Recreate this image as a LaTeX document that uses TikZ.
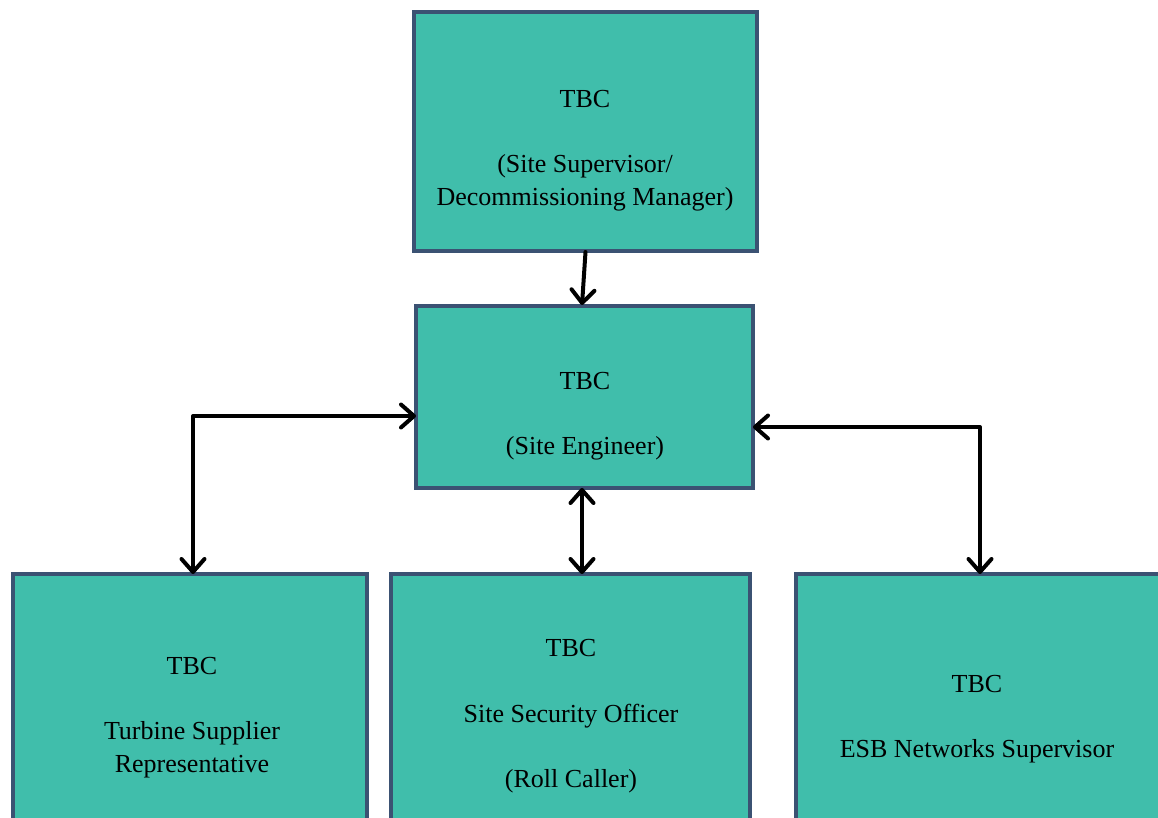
\documentclass[tikz,border=0pt]{standalone}
\usepackage{fontspec}
\setmainfont{Liberation Serif}
\usetikzlibrary{arrows.meta,calc}
\definecolor{boxfill}{RGB}{64,190,171}
\definecolor{boxline}{RGB}{59,82,115}
\tikzset{
  rolebox/.style={draw=boxline, fill=boxfill, line width=2pt, rectangle, inner sep=0pt, outer sep=0pt},
  lbl/.style={anchor=base, inner sep=0pt, font=\fontsize{13}{16.5}\selectfont},
  arr/.style={line width=2pt, draw=black, line cap=round, line join=round},
  barb/.tip={Straight Barb[length=6.5pt,width=11.5pt,round]}
}
\begin{document}
\begin{tikzpicture}[x=0.5pt,y=-0.5pt]
\useasboundingbox (0,0) rectangle (1158,818);
% boxes
\node[rolebox, minimum width=171.5pt, minimum height=119.5pt] (top) at (585.5,131.5) {};
\node[rolebox, minimum width=168.5pt, minimum height=91pt] (mid) at (584.5,397) {};
\node[rolebox, minimum width=177pt, minimum height=163pt] (bl) at (190,737) {};
\node[rolebox, minimum width=179.5pt, minimum height=163pt] (bm) at (570.5,737) {};
\node[rolebox, minimum width=187pt, minimum height=163pt] (br) at (983,737) {};
% labels
\node[lbl] (t1) at (585,108) {TBC};
\node[lbl] (t2) at (585,173) {(Site Supervisor/};
\node[lbl] (t3) at (585,206) {Decommissioning Manager)};
\node[lbl] (m1) at (585,390) {TBC};
\node[lbl] (m2) at (585,455) {(Site Engineer)};
\node[lbl] (l1) at (192,674) {TBC};
\node[lbl] (l2) at (192,739) {Turbine Supplier};
\node[lbl] (l3) at (192,772) {Representative};
\node[lbl] (c1) at (571,656) {TBC};
\node[lbl] (c2) at (571,722) {Site Security Officer};
\node[lbl] (c3) at (571,787) {(Roll Caller)};
\node[lbl] (r1) at (977,692) {TBC};
\node[lbl] (r2) at (977,757) {ESB Networks Supervisor};
% connectors
\coordinate (lc) at (193,416);
\coordinate (rc) at (980,427);
\coordinate (cc) at (582,530);
\draw[arr, -barb] ($(top.south)+(0,1)$) -- ($(mid.north)+(-2.5,-1)$);
\draw[arr, barb-barb] (lc -| mid.west) -- (lc) -- (lc |- bl.north);
\draw[arr, barb-barb] (rc -| mid.east) -- (rc) -- (rc |- br.north);
\draw[arr, barb-barb] (cc |- mid.south) -- (cc |- bm.north);
\end{tikzpicture}
\end{document}
